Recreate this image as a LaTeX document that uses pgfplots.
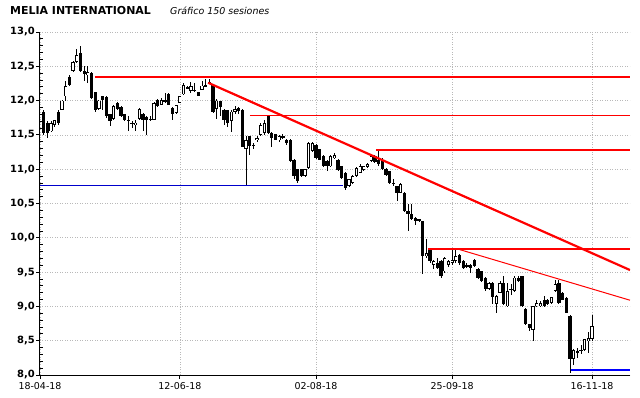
\documentclass[border=0pt]{standalone}
\usepackage{pgfplots}
\pgfplotsset{compat=1.18}
\usepackage{pgfplotstable}
\usepackage{fontspec}
\setmainfont{DejaVu Sans}

\pgfplotstableread{
i o h l c
1 11.84 11.87 11.50 11.53
2 11.67 11.70 11.46 11.53
3 11.55 11.70 11.54 11.67
4 11.65 11.72 11.62 11.71
5 11.84 11.86 11.65 11.67
6 11.87 12.01 11.86 12.00
7 12.06 12.28 12.00 12.21
8 12.35 12.37 12.22 12.23
9 12.43 12.57 12.42 12.56
10 12.56 12.75 12.55 12.67
11 12.70 12.80 12.42 12.43
12 12.43 12.50 12.28 12.39
13 12.38 12.50 12.26 12.41
14 12.40 12.41 12.03 12.04
15 12.12 12.13 11.84 11.86
16 11.88 12.01 11.87 12.00
17 12.06 12.07 11.87 12.01
18 12.05 12.06 11.75 11.77
19 11.80 11.81 11.63 11.70
20 11.73 11.93 11.72 11.92
21 11.97 11.98 11.86 11.88
22 11.91 11.92 11.76 11.77
23 11.80 11.81 11.70 11.71
24 11.72 11.77 11.55 11.70
25 11.68 11.70 11.60 11.665
26 11.65 11.72 11.55 11.68
27 11.73 11.89 11.72 11.88
28 11.81 11.82 11.55 11.72
29 11.76 11.77 11.50 11.71
30 11.73 11.77 11.70 11.72
31 11.72 11.98 11.71 11.97
32 12.01 12.03 11.91 11.92
33 11.94 12.04 11.93 12.01
34 11.99 12.11 11.97 12.01
35 12.10 12.11 11.93 11.94
36 11.89 11.90 11.72 11.80
37 11.82 11.94 11.81 11.93
38 11.97 12.07 11.96 12.06
39 12.09 12.26 12.08 12.23
40 12.20 12.21 12.17 12.18
41 12.14 12.27 12.11 12.21
42 12.16 12.26 12.12 12.14
43 12.12 12.13 12.06 12.07
44 12.16 12.28 12.15 12.22
45 12.23 12.32 12.20 12.21
46 12.27 12.31 12.24 12.25
47 12.23 12.24 11.82 11.83
48 11.88 12.02 11.73 12.00
49 11.99 12.00 11.77 11.91
50 11.87 11.88 11.65 11.72
51 11.86 11.87 11.62 11.68
52 11.70 11.86 11.54 11.84
53 11.84 11.92 11.80 11.88
54 11.89 11.90 11.80 11.85
55 11.87 11.88 11.32 11.33
56 11.29 11.48 10.76 11.43
57 11.48 11.49 11.21 11.34
58 11.36 11.38 11.30 11.34
59 11.43 11.48 11.40 11.46
60 11.50 11.68 11.48 11.65
61 11.53 11.72 11.50 11.67
62 11.77 11.79 11.52 11.53
63 11.53 11.54 11.33 11.46
64 11.51 11.52 11.42 11.43
65 11.42 11.50 11.40 11.48
66 11.49 11.51 11.44 11.45
67 11.43 11.44 11.36 11.38
68 11.43 11.44 11.11 11.12
69 11.14 11.15 10.86 10.90
70 11.00 11.01 10.80 10.83
71 11.00 11.01 10.89 10.90
72 10.90 11.01 10.88 11.00
73 11.02 11.40 11.00 11.38
74 11.26 11.40 11.25 11.38
75 11.36 11.37 11.15 11.16
76 11.29 11.30 11.13 11.14
77 11.19 11.20 11.03 11.04
78 11.12 11.14 10.98 11.04
79 11.04 11.20 11.03 11.19
80 11.16 11.24 11.15 11.21
81 11.14 11.15 10.98 10.99
82 11.04 11.05 10.86 10.87
83 10.95 10.96 10.70 10.73
84 10.75 10.86 10.74 10.85
85 10.80 10.91 10.79 10.90
86 10.90 11.03 10.89 11.02
87 10.95 11.07 10.94 11.04
88 10.99 11.05 10.98 11.04
89 11.03 11.09 11.02 11.08
90 11.12 11.20 11.11 11.19
91 11.19 11.20 11.09 11.10
92 11.13 11.28 11.05 11.08
93 11.14 11.16 10.99 11.00
94 11.00 11.02 10.90 10.91
95 10.97 10.98 10.79 10.80
96 10.80 10.85 10.75 10.79
97 10.75 10.76 10.53 10.66
98 10.66 10.80 10.65 10.78
99 10.66 10.67 10.38 10.39
100 10.39 10.49 10.10 10.34
101 10.35 10.49 10.26 10.27
102 10.29 10.30 10.19 10.24
103 10.27 10.28 10.23 10.24
104 10.24 10.25 9.47 9.73
105 9.73 9.98 9.70 9.78
106 9.83 9.85 9.64 9.66
107 9.61 9.68 9.55 9.66
108 9.64 9.70 9.55 9.56
109 9.66 9.67 9.42 9.44
110 9.51 9.72 9.48 9.71
111 9.61 9.68 9.58 9.66
112 9.63 9.85 9.60 9.68
113 9.66 9.85 9.64 9.73
114 9.75 9.76 9.60 9.63
115 9.66 9.68 9.54 9.56
116 9.60 9.63 9.56 9.59
117 9.61 9.62 9.49 9.56
118 9.68 9.69 9.58 9.59
119 9.54 9.56 9.40 9.42
120 9.51 9.52 9.35 9.37
121 9.42 9.43 9.23 9.25
122 9.25 9.35 9.24 9.34
123 9.34 9.35 9.03 9.13
124 9.03 9.16 8.91 9.15
125 9.20 9.37 9.19 9.34
126 9.34 9.44 9.02 9.03
127 9.00 9.34 8.99 9.22
128 9.24 9.32 9.17 9.26
129 9.22 9.44 9.21 9.42
130 9.42 9.45 9.36 9.37
131 9.44 9.45 8.99 9.00
132 8.96 8.97 8.73 8.74
133 8.74 8.75 8.64 8.69
134 8.66 9.01 8.50 9.00
135 9.00 9.10 8.99 9.05
136 9.00 9.08 8.99 9.05
137 9.10 9.15 8.99 9.00
138 9.10 9.11 9.02 9.03
139 9.05 9.14 9.04 9.13
140 9.22 9.39 9.21 9.32
141 9.34 9.38 9.04 9.05
142 9.20 9.21 9.09 9.10
143 9.12 9.13 8.90 8.91
144 8.86 8.87 8.03 8.23
145 8.23 8.38 8.15 8.37
146 8.35 8.40 8.25 8.33
147 8.37 8.44 8.30 8.35
148 8.37 8.53 8.35 8.52
149 8.49 8.62 8.32 8.54
150 8.52 8.88 8.50 8.71
}\candles

\begin{document}
\begin{tikzpicture}
\path[use as bounding box] (-40bp,-23bp) rectangle (600bp,375bp);
\begin{axis}[
  at={(0,0)}, anchor=south west,
  scale only axis, width=590bp, height=343bp,
  xmin=0, xmax=160.33, ymin=8, ymax=13,
  axis x line*=bottom, axis y line*=left,
  xtick={0,38,75,112,150},
  xticklabels={18-04-18,12-06-18,02-08-18,25-09-18,16-11-18},
  ytick={8,8.5,9,9.5,10,10.5,11,11.5,12,12.5,13},
  minor y tick num=4,
  grid=major,
  major grid style={gray!55, line width=0.6bp, dash pattern=on 1bp off 1.5bp},
  tick align=outside,
  major tick length=3.5bp,
  minor tick length=3bp,
  every minor y tick/.style={xshift=3bp},
  tick style={black, line width=0.8bp},
  axis line style={black, line width=1bp},
  yticklabel style={font=\bfseries\fontsize{10}{12}\selectfont, inner sep=1.5bp},
  xticklabel style={font=\fontsize{9.5}{11}\selectfont},
  /pgf/number format/.cd, fixed, fixed zerofill, precision=1, use comma, assume math mode=true,
]
% wicks
\addplot[draw=none, mark=none, forget plot,
  error bars/.cd, y dir=both, y explicit, error mark=none,
  error bar style={draw=black, line width=0.8bp}]
  table[x=i, y expr={(\thisrow{h}+\thisrow{l})/2}, y error expr={(\thisrow{h}-\thisrow{l})/2}] {\candles};
% bodies
\addplot[draw=none, mark=none, forget plot,
  error bars/.cd, y dir=both, y explicit, error mark=none,
  error bar style={draw=black, line width=3.3bp}]
  table[x=i, y expr={(\thisrow{o}+\thisrow{c})/2}, y error expr={max(abs(\thisrow{o}-\thisrow{c})/2,0.007)}] {\candles};
% white interior of up candles
\addplot[draw=none, mark=none, forget plot,
  error bars/.cd, y dir=both, y explicit, error mark=none,
  error bar style={draw=white, line width=1.5bp}]
  table[x=i, y expr={(\thisrow{o}+\thisrow{c})/2}, y error expr={\thisrow{c}>\thisrow{o} ? max((\thisrow{c}-\thisrow{o})/2-0.013,0) : 0}] {\candles};
% support / resistance lines
\addplot[blue!80!black, line width=0.9bp] coordinates {(0,10.77) (82.3,10.77)};
\addplot[red, line width=2.2bp] coordinates {(14.9,12.344) (160.33,12.344)};
\addplot[red, line width=1bp] coordinates {(57,11.79) (160.33,11.79)};
\addplot[red, line width=2.2bp] coordinates {(91.3,11.28) (160.33,11.28)};
\addplot[red, line width=2.2bp] coordinates {(105.4,9.84) (160.33,9.84)};
\addplot[red, line width=2.2bp] coordinates {(45.7,12.26) (160.33,9.53)};
\addplot[red, line width=1bp] coordinates {(113.3,9.84) (160.33,9.09)};
\addplot[blue, line width=2bp] coordinates {(144.3,8.07) (160.33,8.07)};
\end{axis}
\node[anchor=base west, inner sep=0, font=\bfseries\fontsize{11}{13}\selectfont] at (-30bp,360bp) {MELIA INTERNATIONAL};
\node[anchor=base west, inner sep=0, font=\itshape\fontsize{9.5}{11}\selectfont] at (130bp,360bp) {Gráfico 150 sesiones};
\end{tikzpicture}
\end{document}
